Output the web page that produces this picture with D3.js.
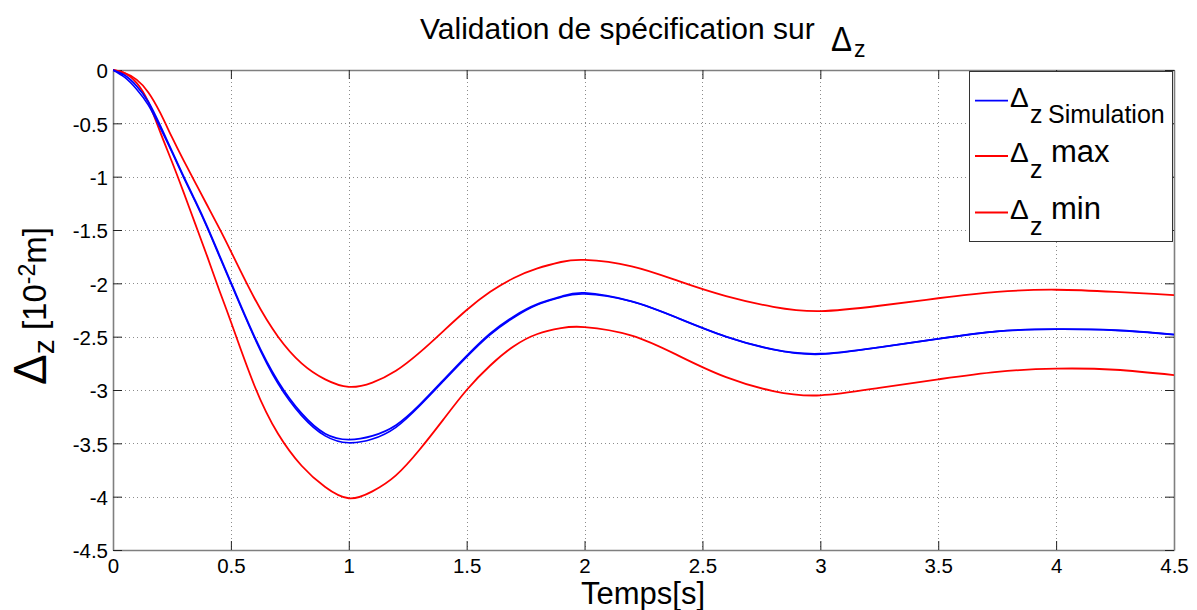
<!DOCTYPE html>
<html><head><meta charset="utf-8">
<script src="https://cdn.jsdelivr.net/npm/d3@7"></script>
<style>
body{margin:0;background:#fff;}
text{font-family:"Liberation Sans",Arial,sans-serif;fill:#000;}
</style></head>
<body><svg id="c" width="1197" height="610"></svg>
<script>
// ---- data ----
const time = [0,0.05,0.1,0.15,0.2,0.25,0.3,0.35,0.4,0.45,0.5,0.6,0.7,0.8,0.9,1.0,1.1,1.2,1.3,1.4,1.5,1.6,1.7,1.8,1.9,2.0,2.2,2.4,2.6,2.8,3.0,3.25,3.5,3.75,4.0,4.25,4.5];
const dzMax = [0,-0.03,-0.09,-0.21,-0.40,-0.63,-0.85,-1.06,-1.27,-1.48,-1.70,-2.14,-2.50,-2.75,-2.90,-2.97,-2.93,-2.82,-2.65,-2.45,-2.25,-2.08,-1.95,-1.86,-1.80,-1.78,-1.84,-1.98,-2.12,-2.22,-2.26,-2.21,-2.14,-2.08,-2.06,-2.08,-2.11];
const dzSim = [0,-0.05,-0.15,-0.30,-0.52,-0.76,-1.00,-1.23,-1.47,-1.73,-1.99,-2.50,-2.92,-3.22,-3.41,-3.465,-3.43,-3.33,-3.14,-2.91,-2.68,-2.47,-2.31,-2.195,-2.125,-2.09,-2.17,-2.33,-2.50,-2.62,-2.66,-2.60,-2.52,-2.45,-2.43,-2.44,-2.48];
const dzSim2 = [0,-0.07,-0.18,-0.33,-0.54,-0.77,-1.01,-1.24,-1.48,-1.74,-2.00,-2.51,-2.94,-3.24,-3.43,-3.495,-3.46,-3.35,-3.15,-2.92,-2.69,-2.48,-2.32,-2.20,-2.13,-2.10,-2.17,-2.33,-2.50,-2.62,-2.665,-2.60,-2.52,-2.45,-2.43,-2.44,-2.48];
const dzMin = [0,-0.03,-0.12,-0.30,-0.58,-0.86,-1.15,-1.45,-1.75,-2.06,-2.36,-2.96,-3.41,-3.71,-3.91,-4.015,-3.95,-3.80,-3.56,-3.28,-3.00,-2.77,-2.59,-2.475,-2.42,-2.41,-2.49,-2.68,-2.88,-3.01,-3.05,-2.98,-2.90,-2.83,-2.80,-2.81,-2.86];
const xTicks = [0,0.5,1,1.5,2,2.5,3,3.5,4,4.5];
const yTicks = [0,-0.5,-1,-1.5,-2,-2.5,-3,-3.5,-4,-4.5];
const titleText = "Validation de spécification sur ";
const xLabel = "Temps[s]";
const legendItems = [
  {sub:"z", extra:"Simulation", color:"#0000ff"},
  {sub:"z", extra:"max", color:"#ff0000"},
  {sub:"z", extra:"min", color:"#ff0000"}
];

// ---- layout ----
const svg = d3.select("#c");
const L=113, R=1174, T=70, B=550;
const x = d3.scaleLinear().domain([0,4.5]).range([L,R]);
const y = d3.scaleLinear().domain([-4.5,0]).range([B,T]);
const fmt = d => String(d);

// grid
const grid = svg.append("g").attr("stroke","#8c8c8c").attr("stroke-width",1).attr("stroke-dasharray","1,3");
grid.selectAll(".gx").data(xTicks.slice(1,-1)).join("line")
  .attr("x1",d=>Math.round(x(d))+0.5).attr("x2",d=>Math.round(x(d))+0.5).attr("y1",T).attr("y2",B);
grid.selectAll(".gy").data(yTicks.slice(1,-1)).join("line")
  .attr("y1",d=>Math.round(y(d))+0.5).attr("y2",d=>Math.round(y(d))+0.5).attr("x1",L).attr("x2",R);

// axes
const ax = svg.append("g");
const xb = ax.append("g").attr("transform",`translate(0,${B})`).call(d3.axisBottom(x).tickValues(xTicks).tickFormat(fmt).tickSizeInner(-9).tickSizeOuter(0).tickPadding(8));
ax.append("g").attr("transform",`translate(0,${T})`).call(d3.axisTop(x).tickValues(xTicks).tickFormat("").tickSizeInner(-9).tickSizeOuter(0));
const yl = ax.append("g").attr("transform",`translate(${L},0)`).call(d3.axisLeft(y).tickValues(yTicks).tickFormat(fmt).tickSizeInner(-9).tickSizeOuter(0).tickPadding(5));
ax.append("g").attr("transform",`translate(${R},0)`).call(d3.axisRight(y).tickValues(yTicks).tickFormat("").tickSizeInner(-9).tickSizeOuter(0));
ax.selectAll(".domain").attr("stroke","#7f7f7f").attr("stroke-width",1.6);
ax.selectAll(".tick line").attr("stroke","#222").attr("stroke-width",1);
ax.selectAll(".tick text").attr("font-size",20.5).attr("font-family","Liberation Sans, Arial, sans-serif").attr("fill","#000");
yl.selectAll(".tick text").attr("dy","0.38em");
xb.selectAll(".tick text").attr("dy","0.72em");

// lines
svg.append("clipPath").attr("id","clip").append("rect").attr("x",L).attr("y",T-2).attr("width",R-L).attr("height",B-T+4);
const line = d3.line().x((d,i)=>x(time[i])).y(d=>y(d)).curve(d3.curveNatural);
const g = svg.append("g").attr("clip-path","url(#clip)").attr("fill","none");
g.append("path").attr("d",line(dzMax)).attr("stroke","#ff0000").attr("stroke-width",1.8);
g.append("path").attr("d",line(dzMin)).attr("stroke","#ff0000").attr("stroke-width",1.8);
g.append("path").attr("d",line(dzSim2)).attr("stroke","#0000ff").attr("stroke-width",1.6);
g.append("path").attr("d",line(dzSim)).attr("stroke","#0000ff").attr("stroke-width",1.8);

// title
svg.append("text").attr("x",420).attr("y",39).attr("font-size",30).text(titleText);
svg.append("text").attr("transform","translate(831,51) scale(0.9,1)").attr("font-size",35).text("Δ");
svg.append("text").attr("x",854).attr("y",57).attr("font-size",23).text("z");

// x label
svg.append("text").attr("x",643).attr("y",604).attr("text-anchor","middle").attr("font-size",31).text(xLabel);

// y label
const ylab = svg.append("text").attr("transform","translate(46,306) rotate(-90)").attr("text-anchor","middle").attr("font-size",33);
ylab.append("tspan").text("Δ").attr("font-size",46);
ylab.append("tspan").text("z").attr("dy",8).attr("font-size",30);
ylab.append("tspan").text(" [10").attr("dy",-8);
ylab.append("tspan").text("-2").attr("dy",-11).attr("font-size",23);
ylab.append("tspan").text("m]").attr("dy",11);

// legend
const lg = svg.append("g");
lg.append("rect").attr("x",969.5).attr("y",71.5).attr("width",203).attr("height",170).attr("fill","#fff").attr("stroke","#333").attr("stroke-width",1);
const rows = [100.7,156,212.5];
legendItems.forEach((it,i)=>{
  const yy = rows[i];
  lg.append("line").attr("x1",975).attr("x2",1008).attr("y1",yy).attr("y2",yy).attr("stroke",it.color).attr("stroke-width",1.8);
  const base = yy+6;
  lg.append("text").attr("x",1010).attr("y",base).attr("font-size",28).text("Δ");
  lg.append("text").attr("x",1030).attr("y",base+16).attr("font-size",25).text(it.sub);
  if(i===0){
    lg.append("text").attr("x",1048).attr("y",base+16).attr("font-size",25).text(it.extra);
  } else {
    lg.append("text").attr("x",1051).attr("y",base).attr("font-size",31).text(it.extra);
  }
});
</script></body></html>
